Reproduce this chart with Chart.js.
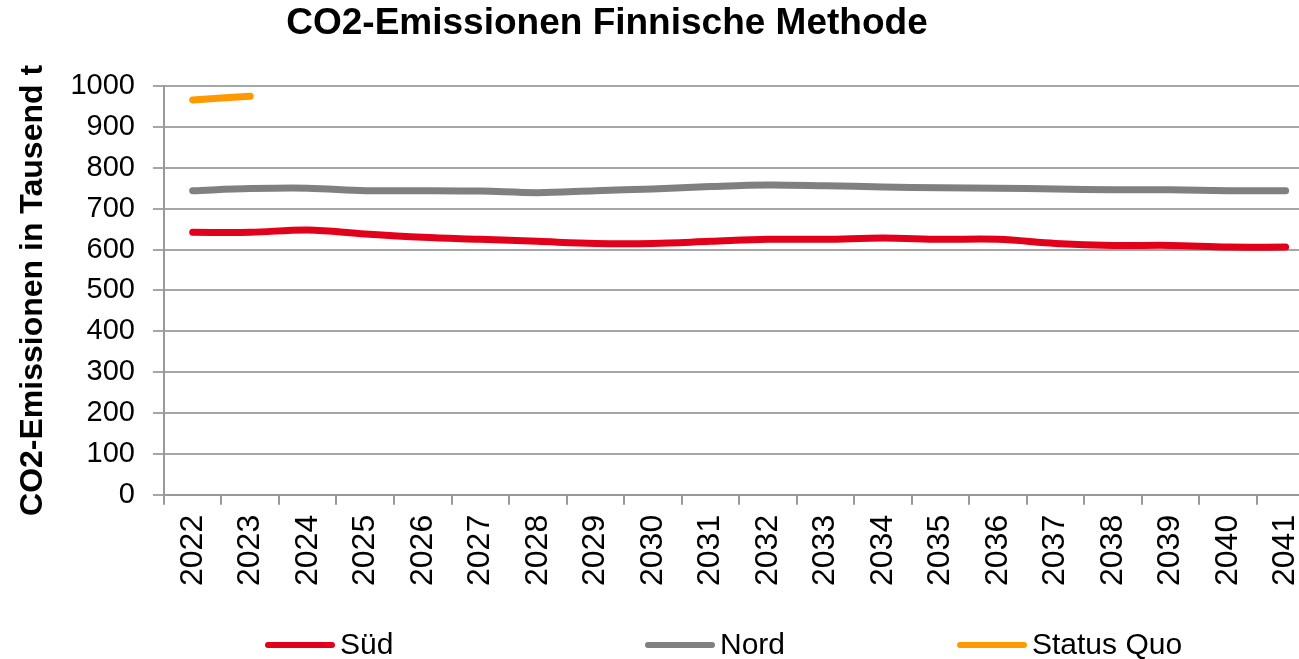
<!DOCTYPE html>
<html>
<head>
<meta charset="utf-8">
<script src="https://cdn.jsdelivr.net/npm/chart.js@4.4.0/dist/chart.umd.min.js"></script>
<style>
  html, body { margin: 0; padding: 0; background: #fff; overflow: hidden; }
  #wrap { width: 1299px; height: 659px; overflow: hidden; }
  canvas { display: block; }
</style>
</head>
<body>
<div id="wrap"><canvas id="co2Chart" width="1334" height="659"></canvas></div>
<script>
const years = ['2022', '2023', '2024', '2025', '2026', '2027', '2028', '2029', '2030', '2031',
  '2032', '2033', '2034', '2035', '2036', '2037', '2038', '2039', '2040', '2041'];

const sued = [642, 642, 648, 638, 630, 625, 620, 615, 615, 620,
  625, 625, 628, 625, 625, 615, 610, 610, 606, 606];

const nord = [744, 749, 750, 744, 744, 743, 739, 744, 748, 754,
  758, 756, 753, 751, 750, 748, 746, 746, 744, 744];

const statusQuo = [966, 975, null, null, null, null, null, null, null, null,
  null, null, null, null, null, null, null, null, null, null];

const yTicks = [0, 100, 200, 300, 400, 500, 600, 700, 800, 900, 1000];

const FONT = "'Liberation Sans', Arial, sans-serif";
Chart.defaults.font.family = FONT;
Chart.defaults.color = '#000';

// title sits left of centre in the original, so draw it by hand
const titlePlugin = {
  id: 'sideTitle',
  afterDraw(chart) {
    const c = chart.ctx;
    c.save();
    c.font = 'bold 37px ' + FONT;
    c.fillStyle = '#000';
    c.textAlign = 'center';
    c.textBaseline = 'middle';
    c.fillText('CO2-Emissionen Finnische Methode', 607, 24);
    c.restore();
  }
};

// legend items are spread wide apart, more than the built-in legend allows
const legendSlots = [268, 648, 960];
const spreadLegend = {
  id: 'spreadLegend',
  afterDraw(chart) {
    const c = chart.ctx;
    c.save();
    c.font = '30px ' + FONT;
    c.textBaseline = 'middle';
    chart.data.datasets.forEach((ds, i) => {
      const x = legendSlots[i];
      const y = 645;
      c.strokeStyle = ds.borderColor;
      c.lineWidth = 6;
      c.lineCap = 'round';
      c.beginPath();
      c.moveTo(x, y);
      c.lineTo(x + 64, y);
      c.stroke();
      c.fillStyle = '#000';
      c.fillText(ds.label, x + 72, y + 1);
    });
    c.restore();
  }
};

function lineSet(label, data, color) {
  return {
    label: label,
    data: data,
    borderColor: color,
    backgroundColor: color,
    borderWidth: 7,
    borderCapStyle: 'round',
    pointRadius: 0,
    tension: 0.35,
    fill: false
  };
}

const ctx = document.getElementById('co2Chart').getContext('2d');
new Chart(ctx, {
  type: 'line',
  data: {
    labels: years,
    datasets: [
      lineSet('Süd', sued, '#e2001a'),
      lineSet('Nord', nord, '#808080'),
      lineSet('Status Quo', statusQuo, '#ff9900')
    ]
  },
  options: {
    responsive: false,
    animation: false,
    layout: { padding: { top: 86, left: 14, right: 0, bottom: 63 } },
    scales: {
      x: {
        offset: true,
        grid: { drawOnChartArea: false, drawTicks: true, tickLength: 10, color: '#999', lineWidth: 2, offset: true },
        border: { color: '#999', width: 2 },
        ticks: { minRotation: 90, maxRotation: 90, autoSkip: false, padding: 10, font: { size: 32 } }
      },
      y: {
        min: 0,
        max: 1000,
        afterBuildTicks: axis => { axis.ticks = yTicks.map(v => ({ value: v })); },
        grid: { color: '#a6a6a6', lineWidth: 2, tickLength: 11 },
        border: { color: '#999', width: 2 },
        ticks: { autoSkip: false, padding: 18, font: { size: 29 }, callback: v => String(v) },
        title: {
          display: true,
          text: 'CO2-Emissionen in Tausend t',
          font: { size: 32, weight: 'bold' },
          padding: { top: 0, bottom: 0 }
        }
      }
    },
    plugins: {
      legend: { display: false },
      tooltip: { enabled: false }
    }
  },
  plugins: [titlePlugin, spreadLegend]
});
</script>
</body>
</html>
